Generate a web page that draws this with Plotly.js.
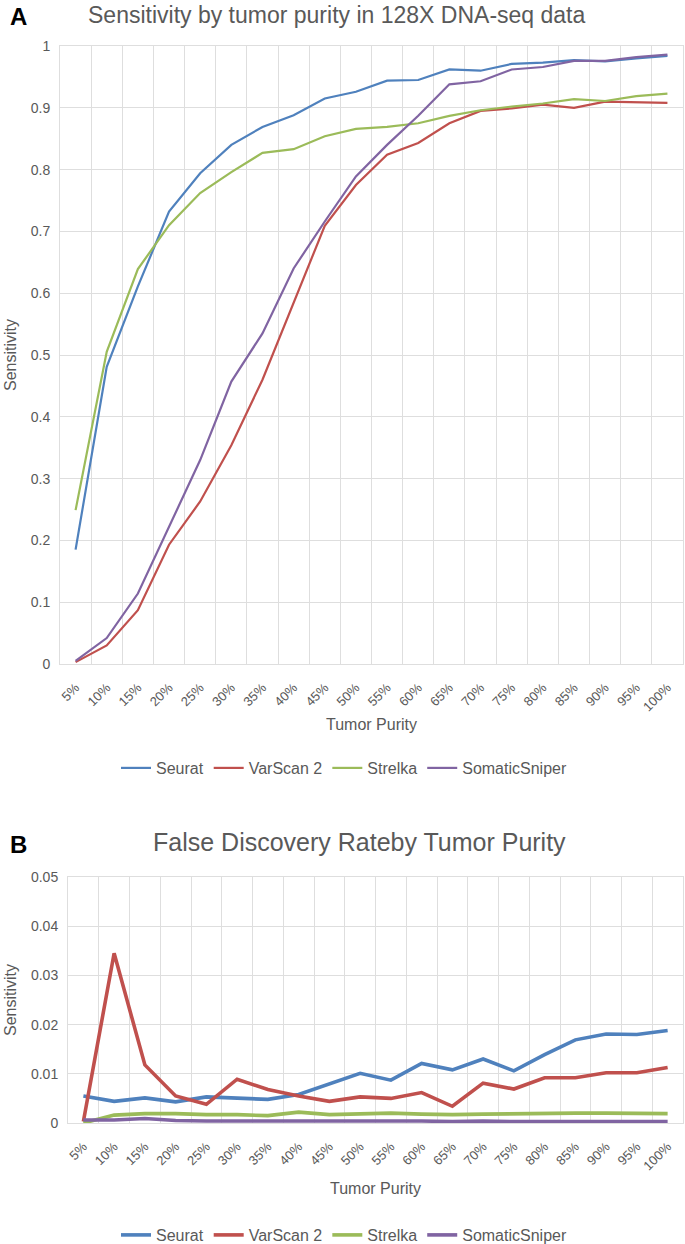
<!DOCTYPE html>
<html><head><meta charset="utf-8">
<script src="https://cdn.plot.ly/plotly-3.0.1.min.js"></script>
<style>body{margin:0;padding:0;background:#fff}#a,#b{width:685px}</style>
</head><body>
<div id="a"></div><div id="b"></div>
<script>
const purity = ["5%","10%","15%","20%","25%","30%","35%","40%","45%","50%","55%","60%","65%","70%","75%","80%","85%","90%","95%","100%"];

// Panel A: sensitivity
const sensSeurat = [0.185,0.481,0.611,0.732,0.794,0.840,0.869,0.888,0.915,0.926,0.944,0.945,0.962,0.960,0.971,0.973,0.977,0.975,0.980,0.984];
const sensVarScan = [0.003,0.030,0.087,0.193,0.263,0.354,0.460,0.585,0.709,0.775,0.824,0.843,0.875,0.895,0.899,0.905,0.900,0.910,0.909,0.908];
const sensStrelka = [0.249,0.505,0.639,0.710,0.762,0.796,0.827,0.833,0.854,0.866,0.869,0.875,0.887,0.896,0.902,0.907,0.914,0.911,0.919,0.923];
const sensSniper = [0.005,0.042,0.114,0.222,0.330,0.457,0.535,0.640,0.716,0.789,0.840,0.887,0.938,0.943,0.962,0.966,0.976,0.976,0.982,0.986];

// Panel B: false discovery rate
const fdrSeurat = [0.0055,0.0044,0.0051,0.0043,0.0053,0.0050,0.0048,0.0058,0.0079,0.0101,0.0087,0.0121,0.0108,0.0130,0.0106,0.0139,0.0169,0.0181,0.0180,0.0188];
const fdrVarScan = [0.0003,0.0345,0.0118,0.0055,0.0038,0.0089,0.0068,0.0055,0.0044,0.0053,0.0050,0.0062,0.0034,0.0081,0.0069,0.0092,0.0092,0.0102,0.0102,0.0113];
const fdrStrelka = [0.0000,0.0016,0.0019,0.0019,0.0017,0.0017,0.0015,0.0022,0.0017,0.0018,0.0020,0.0018,0.0017,0.0018,0.0019,0.0019,0.0020,0.0020,0.0019,0.0019];
const fdrSniper = [0.0006,0.0006,0.0009,0.0005,0.0004,0.0004,0.0004,0.0005,0.0004,0.0004,0.0004,0.0004,0.0003,0.0004,0.0003,0.0003,0.0003,0.0003,0.0003,0.0003];

const seriesNames = ["Seurat","VarScan 2","Strelka","SomaticSniper"];
const colors = ["#4F81BD","#C0504D","#9BBB59","#8064A2"];
const FONT = "Liberation Sans, Arial, sans-serif";
const GRID = "#dedede";
const TXT = "#595959";

function traces(arrs, w){
  return arrs.map((y,i)=>({x:purity,y:y,type:"scatter",mode:"lines",name:seriesNames[i],
    line:{color:colors[i],width:w,shape:"linear"},hoverinfo:"skip"}));
}

function makeLayout(o){
  const W=685, H=o.H;
  const pl=o.l, pr=W-o.r, pt=o.t, pb=H-o.b;
  const px=x=>(x-pl)/(pr-pl), py=y=>(pb-y)/(pb-pt);
  return {
    width:W,height:H,margin:{l:o.l,r:o.r,t:o.t,b:o.b,autoexpand:false},
    paper_bgcolor:"#fff",plot_bgcolor:"#fff",
    font:{family:FONT,color:TXT,size:14},
    showlegend:true,
    legend:{orientation:"h",xref:"container",yref:"container",x:o.legX/W,y:1-o.legY/H,xanchor:"center",yanchor:"middle",
      font:{size:16,color:TXT},itemwidth:30,tracegroupgap:0,bgcolor:"rgba(0,0,0,0)"},
    xaxis:{type:"category",tickson:"boundaries",range:[-0.5,19.5],showgrid:true,gridcolor:GRID,gridwidth:1,
      ticks:"",tickangle:-45,tickfont:{size:13,color:TXT},showline:true,mirror:true,linecolor:GRID,linewidth:1,
      fixedrange:true,ticklabelstandoff:10,automargin:false},
    yaxis:{range:o.yr,dtick:o.dt,tickformat:o.tf,showgrid:true,gridcolor:GRID,gridwidth:1,zeroline:false,
      ticks:"",tickfont:{size:14,color:TXT},showline:true,mirror:true,linecolor:GRID,linewidth:1,fixedrange:true,
      ticklabelstandoff:6,automargin:false},
    annotations:[
      {text:o.title,xref:"paper",yref:"paper",x:px(o.titX),y:py(o.titY),showarrow:false,xanchor:"center",yanchor:"middle",
        font:{size:o.titS,color:TXT,family:FONT}},
      {text:"<b>"+o.letter+"</b>",xref:"paper",yref:"paper",x:px(18),y:py(o.titY+2),showarrow:false,xanchor:"center",yanchor:"middle",
        font:{size:24,color:"#000",family:FONT}},
      {text:"Tumor Purity",xref:"paper",yref:"paper",x:0.5,y:py(o.xtY),showarrow:false,xanchor:"center",yanchor:"middle",
        font:{size:16,color:TXT,family:FONT}},
      {text:"Sensitivity",xref:"paper",yref:"paper",x:px(10),y:0.5,textangle:-90,showarrow:false,xanchor:"center",yanchor:"middle",
        font:{size:16,color:TXT,family:FONT}}
    ]
  };
}

const layA = makeLayout({H:780,l:60,r:2,t:46,b:116,yr:[0,1],dt:0.1,tf:"",title:"Sensitivity by tumor purity in 128X DNA-seq data",
  titS:23,letter:"A",titX:336,titY:15,xtY:725,legX:344,legY:768});
const layB = makeLayout({H:464,l:68,r:2,t:97,b:121,yr:[0,0.05],dt:0.01,tf:"",title:"False Discovery Rateby Tumor Purity",
  titS:25,letter:"B",titX:359,titY:62,xtY:408,legX:344,legY:455});

Plotly.newPlot("a", traces([sensSeurat,sensVarScan,sensStrelka,sensSniper],2.2), layA, {displayModeBar:false,staticPlot:true});
Plotly.newPlot("b", traces([fdrSeurat,fdrVarScan,fdrStrelka,fdrSniper],3.6), layB, {displayModeBar:false,staticPlot:true});
</script>
</body></html>
